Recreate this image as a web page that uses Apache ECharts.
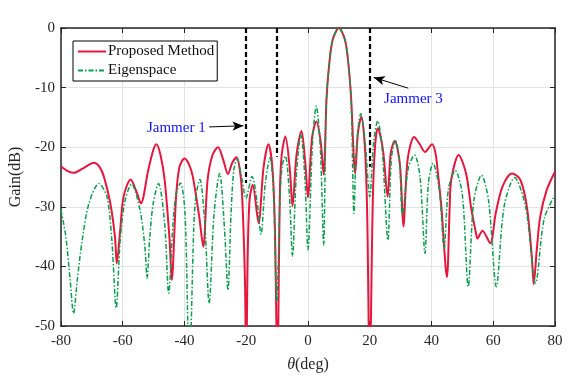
<!DOCTYPE html>
<html>
<head>
<meta charset="utf-8">
<script src="https://cdn.jsdelivr.net/npm/echarts@6/dist/echarts.min.js"></script>
<style>
  html, body { margin: 0; padding: 0; background: #fff; }
  #chart { width: 581px; height: 378px; }
</style>
</head>
<body>
<div id="chart"></div>
<script>
// beam patterns, [theta (deg), gain (dB)]
const proposed = [
  [-80, -23.2], [-77.8, -24.0], [-75.7, -24.3], [-73, -23.6], [-69.3, -22.6], [-67.5, -23.3],
  [-66.1, -24.9], [-64.0, -29.4], [-62.5, -35], [-61.9, -39.5], [-60.8, -33.9], [-59.7, -28.3],
  [-57.4, -25.4], [-55.5, -27.5], [-54.1, -29.4], [-51.7, -23.8], [-50.1, -20.5], [-49.1, -19.5],
  [-47.8, -21.2], [-46.4, -25.5], [-44.8, -35.6], [-44.1, -42.3], [-42.7, -28.3], [-41.6, -23.3],
  [-40.0, -21.9], [-38.6, -22.8], [-37.3, -24.9], [-35.2, -31.7], [-33.9, -36.7], [-32.5, -25.5],
  [-30.9, -21.3], [-29.1, -20.0], [-27.5, -22.0], [-25.9, -24.5], [-24.5, -22.6], [-23.1, -21.7],
  [-22.0, -24.0], [-21.3, -28.3], [-20.4, -42.3], [-20.0, -58], [-19.5, -38], [-18.9, -28.8],
  [-17.9, -26.3], [-16.0, -32.7], [-14.4, -23.5], [-12.8, -19.5], [-11.5, -23.5], [-10.7, -33.6],
  [-9.9, -58], [-9.1, -28.0], [-8.5, -21.3], [-7.3, -18.2], [-5.9, -23.5], [-5.0, -29.9],
  [-3.7, -21.3], [-2.1, -17.3], [-0.9, -22.4], [0, -28.4], [1.3, -18.5], [2.7, -15.7],
  [4.1, -19.0], [5.1, -24.6], [6.0, -12.0], [6.9, -6.0], [8.0, -2.0], [10.0, 0],
  [12.0, -2.0], [13.1, -6.0], [14.0, -12.0], [15.3, -24.4], [16.2, -17.5], [17.3, -14.9],
  [18.5, -20.5], [19.2, -31.7], [20.0, -58], [21.0, -28.9], [21.7, -20.0], [22.6, -16.8],
  [24.3, -20.5], [25.8, -28.3], [26.8, -21.0], [28.1, -18.9], [29.8, -23.0], [30.9, -33.3],
  [32.3, -22.0], [34.4, -18.3], [36.2, -19.5], [37.9, -20.8], [40.2, -19.5], [41.3, -21.0],
  [42.1, -24.4], [43.2, -30.0], [45.0, -41.8], [45.9, -30.0], [46.4, -25.5], [48.8, -21.3],
  [51.2, -24.4], [52.8, -30.0], [54.4, -34.4], [54.9, -35.3], [56.5, -34.0], [59.0, -36.1],
  [60.8, -31.1], [63.0, -26.6], [66.1, -24.4], [68.8, -25.5], [70.9, -30.0], [72.5, -38.4],
  [73.1, -43.0], [74.1, -37.2], [75.2, -31.7], [77.3, -27.2], [80, -24.1]
]

const eigenspace = [
  [-80, -30.5], [-78.4, -35], [-77, -42.3], [-75.9, -47.9], [-74.7, -42.3], [-73.1, -35.6],
  [-70.9, -29.4], [-67.7, -26.1], [-65.1, -28.3], [-63.5, -35.6], [-62.1, -47], [-60.8, -35.6],
  [-59.2, -28.9], [-57.1, -26.2], [-54.4, -30.5], [-52.8, -36.7], [-52.1, -42], [-51.2, -35],
  [-50.1, -29.4], [-48.4, -26.1], [-46.4, -32.8], [-45.1, -44.5], [-43.7, -32.8], [-42.7, -27.8],
  [-41.3, -26], [-39.8, -31.1], [-38.4, -58], [-37, -33.9], [-36.3, -28.3], [-35, -25.4],
  [-33.4, -32.8], [-32, -46.2], [-30.4, -31.1], [-28.6, -24.4], [-27, -33.9], [-25.9, -44],
  [-24.9, -31.1], [-24, -23.8], [-22.9, -22], [-21.3, -25.5], [-20.1, -28.6], [-18.1, -24.9],
  [-16.5, -29], [-15.2, -34.6], [-13.8, -26], [-12.3, -21.8], [-11.2, -27], [-10.1, -46],
  [-9, -28], [-8.3, -23], [-7.3, -21.5], [-6, -28], [-5, -38.3], [-3.8, -25],
  [-2.3, -17.9], [-1, -25], [0, -37.2], [1.5, -19], [2.7, -13.1], [4, -20],
  [5.1, -36.4], [5.6, -22], [6, -12], [6.9, -6], [8, -2], [10, 0],
  [12, -2], [13.1, -6], [14, -12], [14.9, -31.1], [15.7, -20], [17.1, -14.4],
  [18.5, -19], [20, -28.3], [21.3, -19], [22.6, -15.6], [24, -20], [25.9, -35.6],
  [27, -22], [28.3, -18.8], [29.6, -22], [30.6, -31.4], [32.5, -23.5], [34.5, -21.3],
  [36.3, -25], [37.9, -37.8], [39, -26], [40.5, -22.7], [42.5, -27], [44.1, -37],
  [45.5, -27], [47.7, -23.9], [50, -28], [51.9, -43.4], [53.7, -29], [56.2, -24.7],
  [58.5, -29], [61, -43.4], [63.5, -30], [66.9, -25.1], [70.5, -30], [73.7, -42.8],
  [76.5, -32], [80, -28]
]

// jammer directions and where the dashed markers stop
const jammerAngles = [-20, -10, 20]
const jammerEnds = [-26, -21.6, -23.3]

// annotations: text anchor, arrow start -> arrow tip
const jammerLabels = ["Jammer 1", "Jammer 3"]
const labelAt = [[-52.3, -16.8], [24.5, -11.9]]
const arrows = [
  [[-32, -16.6], [-20.9, -16.4]],
  [[32.5, -10.1], [21.3, -8.3]]
]

const xTicks = { min: -80, max: 80, step: 20 }
const yTicks = { min: -50, max: 0, step: 10 }

const font = "Liberation Serif"
const axisColor = "#262626"

let myChart = echarts.init(document.getElementById("chart"), null, { renderer: "canvas" })

function axisBase(range) {
  return {
    type: "value",
    min: range.min,
    max: range.max,
    interval: range.step,
    axisLine: { show: true, onZero: false, lineStyle: { color: axisColor, width: 1.5 } },
    axisTick: { show: true, inside: true, length: 5, lineStyle: { color: axisColor } },
  }
}

let jammerLines = jammerAngles.map((a, i) => [
  { coord: [a, 0], symbol: "none" },
  { coord: [a, jammerEnds[i]], symbol: "none" },
])

let arrowLines = arrows.map((ar) => [
  { coord: ar[0], symbol: "none", lineStyle: { type: "solid", width: 1, color: "#000" } },
  { coord: ar[1], symbol: "arrow", symbolSize: [7, 11] },
])

myChart.setOption({
  backgroundColor: "#fff",
  animation: false,
  grid: { left: 55, right: 26, top: 28, bottom: 52 },
  legend: {
    orient: "vertical",
    left: 73,
    top: 41,
    padding: [3, 3, 3, 4],
    itemGap: 4,
    itemWidth: 28,
    itemHeight: 14,
    backgroundColor: "#fff",
    borderColor: "#000",
    borderWidth: 1,
    borderRadius: 0,
    itemStyle: { opacity: 0 },
    textStyle: { fontFamily: font, fontSize: 15, color: "#111", padding: [0, 0, 0, -3] },
    data: ["Proposed Method", "Eigenspace"],
  },
  xAxis: [
    Object.assign(axisBase(xTicks), {
      position: "bottom",
      name: "{i|θ}(deg)",
      nameLocation: "middle",
      nameGap: 31,
      nameTextStyle: {
        fontFamily: font,
        fontSize: 16,
        color: axisColor,
        rich: { i: { fontFamily: font, fontSize: 16, fontStyle: "italic", color: axisColor } },
      },
      axisLabel: { fontFamily: font, fontSize: 15, color: axisColor, margin: 8 },
      splitLine: { show: true, lineStyle: { color: "#e3e3e3", width: 1 } },
    }),
    Object.assign(axisBase(xTicks), {
      position: "top",
      axisLabel: { show: false },
      splitLine: { show: false },
    }),
  ],
  yAxis: [
    Object.assign(axisBase(yTicks), {
      position: "left",
      name: "Gain(dB)",
      nameLocation: "middle",
      nameGap: 28,
      nameTextStyle: { fontFamily: font, fontSize: 16, color: axisColor },
      axisLabel: { fontFamily: font, fontSize: 15, color: axisColor, margin: 6 },
      splitLine: { show: true, lineStyle: { color: "#e3e3e3", width: 1 } },
    }),
    Object.assign(axisBase(yTicks), {
      position: "right",
      axisLabel: { show: false },
      splitLine: { show: false },
    }),
  ],
  series: [
    {
      name: "Proposed Method",
      type: "line",
      data: proposed,
      smooth: 0.3,
      showSymbol: false,
      symbol: "none",
      clip: true,
      color: "#e6173f",
      lineStyle: { color: "#e6173f", width: 2 },
      z: 3,
    },
    {
      name: "Eigenspace",
      type: "line",
      data: eigenspace,
      smooth: 0.3,
      showSymbol: false,
      symbol: "none",
      clip: true,
      color: "#0a9e4e",
      lineStyle: { color: "#0a9e4e", width: 1.5, type: [5, 2, 1.5, 2] },
      z: 4,
    },
    {
      name: "marks",
      type: "line",
      data: [],
      z: 6,
      markLine: {
        silent: true,
        symbol: "none",
        label: { show: false },
        lineStyle: { color: "#000", width: 2.2, type: [5, 3] },
        data: jammerLines.concat(arrowLines),
      },
      markPoint: {
        silent: true,
        symbol: "circle",
        symbolSize: 1,
        itemStyle: { color: "rgba(0,0,0,0)" },
        label: {
          show: true,
          position: "right",
          distance: 0,
          fontFamily: font,
          fontSize: 15,
          color: "#1414ff",
          formatter: (p) => p.name,
        },
        data: jammerLabels.map((t, i) => ({ name: t, coord: labelAt[i] })),
      },
    },
  ],
})
</script>
</body>
</html>
